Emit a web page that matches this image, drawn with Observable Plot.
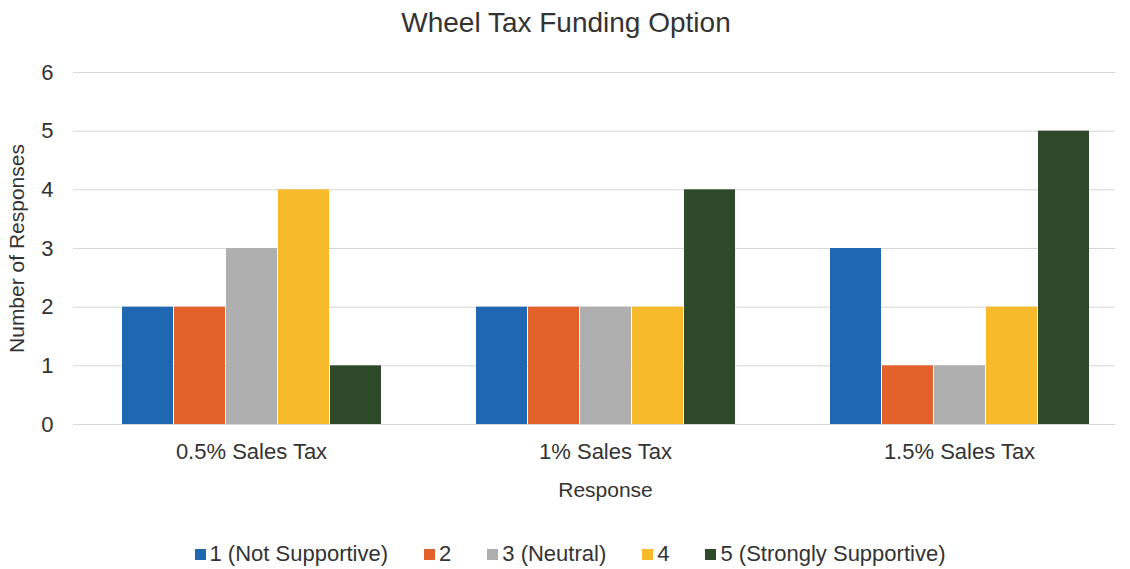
<!DOCTYPE html>
<html>
<head>
<meta charset="utf-8">
<script src="https://cdn.jsdelivr.net/npm/d3@7"></script>
<script src="https://cdn.jsdelivr.net/npm/@observablehq/plot@0.6"></script>
<style>
  body { margin: 0; background: #fff; width: 1130px; height: 569px; overflow: hidden;
         font-family: "Liberation Sans", Arial, sans-serif; color: #333; }
  #title { height: 45px; line-height: 45px; text-align: center; font-size: 28px; padding-left: 2px; }
  #chart { position: relative; width: 1130px; height: 470px; }
  #chart svg { display: block; position: absolute; left: 0; top: 0; }
  #legend { margin-top: 27px; display: flex; justify-content: center; align-items: center;
            font-size: 22px; height: 24px; padding-left: 10px; }
  .item { display: flex; align-items: center; margin: 0 18px; }
  .sw { width: 11px; height: 11px; margin-right: 4px; }
</style>
</head>
<body>
<div id="title">Wheel Tax Funding Option</div>
<div id="chart"></div>
<div id="legend"></div>
<script>
const groups = ["0.5% Sales Tax", "1% Sales Tax", "1.5% Sales Tax"];
const series = ["1 (Not Supportive)", "2", "3 (Neutral)", "4", "5 (Strongly Supportive)"];
const colors = ["#1f67b1", "#e3612a", "#afafaf", "#f6ba2a", "#2f4a2b"];
const counts05 = [2, 2, 3, 4, 1];
const counts10 = [2, 2, 2, 2, 4];
const counts15 = [3, 1, 1, 2, 5];
const yTicks = [0, 1, 2, 3, 4, 5, 6];

const table = [];
[counts05, counts10, counts15].forEach((vals, gi) =>
  vals.forEach((v, si) => table.push({group: groups[gi], series: series[si], value: v})));

const common = {
  width: 1130,
  height: 470,
  marginTop: 27,
  marginBottom: 91,
  y: {domain: [0, 6]}
};
const font = "Liberation Sans, Arial, sans-serif";

// Background layer: grid and y axis
const back = Plot.plot({
  ...common,
  marginLeft: 73,
  marginRight: 15,
  style: {fontFamily: font, fontSize: "22px", color: "#333", background: "white", overflow: "visible"},
  marks: [
    Plot.ruleY(yTicks, {stroke: "#d6d6d6", strokeWidth: 1}),
    Plot.axisY({ticks: yTicks, tickFormat: "d", tickSize: 0, tickPadding: 20, fontSize: 22,
                label: "Number of Responses", labelAnchor: "center", labelOffset: 64, labelArrow: "none"})
  ]
});

// Foreground layer: grouped bars and category axis
const front = Plot.plot({
  ...common,
  marginLeft: 74,
  marginRight: -7,
  style: {fontFamily: font, fontSize: "22px", color: "#333", background: "transparent", overflow: "visible"},
  fx: {domain: groups, paddingInner: 0.265, paddingOuter: 0.1325},
  x: {domain: series, paddingInner: 0.02, paddingOuter: 0, axis: null},
  y: {domain: [0, 6], axis: null},
  color: {domain: series, range: colors},
  marks: [
    Plot.barY(table, {fx: "group", x: "series", y: "value", fill: "series"}),
    Plot.axisFx({anchor: "bottom", tickSize: 0, tickPadding: 19, fontSize: 22,
                 label: "Response", labelAnchor: "center", labelOffset: 72, labelArrow: "none"})
  ]
});
d3.select(back).selectAll('g[aria-label="y-axis label"]').attr("font-size", 21);
d3.select(front).selectAll('g[aria-label="fx-axis label"]').attr("font-size", 21);

const holder = document.getElementById("chart");
holder.appendChild(back);
holder.appendChild(front);

const legend = document.getElementById("legend");
series.forEach((s, i) => {
  const item = document.createElement("div");
  item.className = "item";
  const sw = document.createElement("span");
  sw.className = "sw";
  sw.style.background = colors[i];
  const t = document.createElement("span");
  t.textContent = s;
  item.appendChild(sw);
  item.appendChild(t);
  legend.appendChild(item);
});
</script>
</body>
</html>
